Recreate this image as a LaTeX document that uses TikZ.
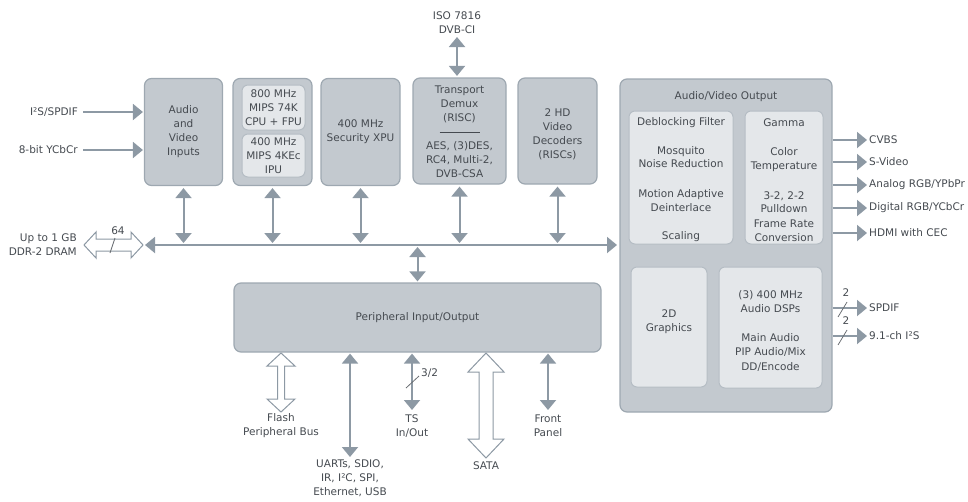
\documentclass[tikz,border=0pt]{standalone}
\usepackage{fontspec}
\setmainfont{DejaVu Sans}
\usetikzlibrary{arrows.meta,calc}
\definecolor{boxfill}{HTML}{C3C9CF}
\definecolor{boxedge}{HTML}{9EA8B1}
\definecolor{innerfill}{HTML}{E4E7EA}
\definecolor{inneredge}{HTML}{B5BDC4}
\definecolor{arrowc}{HTML}{8D99A4}
\definecolor{txt}{HTML}{454A50}
\newcommand{\hollowV}[6]{% x, y1, y2, H, S, L
  \draw[hollow] (#1,#2) -- ({#1+#4},{#2+#6}) -- ({#1+#5},{#2+#6}) -- ({#1+#5},{#3-#6}) -- ({#1+#4},{#3-#6}) -- (#1,#3)
   -- ({#1-#4},{#3-#6}) -- ({#1-#5},{#3-#6}) -- ({#1-#5},{#2+#6}) -- ({#1-#4},{#2+#6}) -- cycle;}
\newcommand{\hollowH}[6]{% y, x1, x2, H, S, L
  \draw[hollow] (#2,#1) -- ({#2+#6},{#1-#4}) -- ({#2+#6},{#1-#5}) -- ({#3-#6},{#1-#5}) -- ({#3-#6},{#1-#4}) -- (#3,#1)
   -- ({#3-#6},{#1+#4}) -- ({#3-#6},{#1+#5}) -- ({#2+#6},{#1+#5}) -- ({#2+#6},{#1+#4}) -- cycle;}
\begin{document}
\begin{tikzpicture}[x=1pt,y=-1pt,
  every node/.style={font=\fontsize{10.5}{14}\selectfont, text=txt, align=center, inner sep=0pt},
  blk/.style={draw=boxedge, fill=boxfill, line width=1.2pt, rounded corners=7pt},
  innerbox/.style={draw=inneredge, fill=innerfill, line width=1pt, rounded corners=6pt},
  biarrow/.style={draw=arrowc, line width=2pt, {Triangle[length=10pt,width=16pt]}-{Triangle[length=10pt,width=16pt]}},
  oneway/.style={draw=arrowc, line width=2pt, -{Triangle[length=10pt,width=16pt]}},
  hollow/.style={draw=arrowc, fill=white, line width=1pt, line join=miter},
  tickmark/.style={draw=txt!80, line width=0.8pt},
  lbl/.style={anchor=base}
]
\useasboundingbox (0,0) rectangle (968,501);

% ---- top row blocks
\node[blk, minimum width=78pt, minimum height=107pt] (avin) at (183.5,132) {Audio\\and\\Video\\Inputs};
\node[blk, minimum width=79pt, minimum height=107pt] (cpu) at (272.5,132) {};
\node[innerbox, minimum width=63pt, minimum height=45pt] (cpu1) at (273.5,107.5) {800 MHz\\MIPS 74K\\CPU + FPU};
\node[innerbox, minimum width=63pt, minimum height=43pt] (cpu2) at (273.5,155.5) {400 MHz\\MIPS 4KEc\\IPU};
\node[blk, minimum width=79pt, minimum height=107pt] (xpu) at (360.5,132) {400 MHz\\Security XPU};
\node[blk, minimum width=93pt, minimum height=106pt] (td) at (459.5,131) {};
\node (tdt) at (459.5,132) {Transport\\Demux\\(RISC)\\\rule[3pt]{40pt}{0.7pt}\\AES, (3)DES,\\RC4, Multi-2,\\DVB-CSA};
\node[blk, minimum width=79pt, minimum height=106pt] (vd) at (557.5,131) {};
\node (vdt) at (557.5,134) {2 HD\\Video\\Decoders\\(RISCs)};

% ---- A/V output
\node[blk, minimum width=212pt, minimum height=333pt] (avout) at (726,245.5) {};
\node[lbl] (avtitle) at (726,99) {Audio/Video Output};
\node[innerbox, minimum width=104pt, minimum height=133pt] (pp1) at (681,177.5) {};
\node[innerbox, minimum width=78pt, minimum height=133pt] (pp2) at (784,177.5) {};
\node[innerbox, minimum width=76pt, minimum height=120pt] (gfx) at (669,327) {};
\node[innerbox, minimum width=103pt, minimum height=121pt] (dsp) at (770.5,327.5) {};
\foreach \t/\y [count=\i] in {{Deblocking Filter}/125, {Mosquito}/154, {Noise Reduction}/167, {Motion Adaptive}/197, {Deinterlace}/211, {Scaling}/239}
  \node[lbl] (ppa\i) at (681,\y) {\t};
\foreach \t/\y [count=\i] in {{Gamma}/126, {Color}/155, {Temperature}/169, {3-2, 2-2}/199, {Pulldown}/212, {Frame Rate}/227, {Conversion}/241}
  \node[lbl] (ppb\i) at (784,\y) {\t};
\node[lbl] (gfx1) at (669,317) {2D};
\node[lbl] (gfx2) at (669,331) {Graphics};
\foreach \t/\y [count=\i] in {{(3) 400 MHz}/298, {Audio DSPs}/312, {Main Audio}/341, {PIP Audio/Mix}/355, {DD/Encode}/370}
  \node[lbl] (dspt\i) at (770.5,\y) {\t};

% ---- peripheral block
\node[blk, minimum width=367pt, minimum height=69pt] (peri) at (417.5,317.5) {Peripheral Input/Output};

% ---- bus
\coordinate (busL) at (145,245);
\coordinate (busR) at (617,245);
\draw[biarrow] (busL) -- (busR);
\foreach \b in {avin,cpu,xpu,td,vd}
  \draw[biarrow, shorten <=2pt, shorten >=2pt] (\b.south) -- (\b.south |- busL);
\draw[biarrow, shorten <=2pt, shorten >=1pt] (peri.north |- busL) -- (peri.north);

% ---- DDR
\node[anchor=east, align=right] (ddr) at (77,244.5) {Up to 1 GB\\DDR-2 DRAM};
\hollowH{245}{84}{143}{13}{6}{12}
\draw[tickmark] (110,253) -- (115,238);
\node (n64) at (118,231) {64};

% ---- inputs
\node[anchor=east] (i2s) at (78,112) {I²S/SPDIF};
\node[anchor=east] (ycbcr) at (78,150) {8-bit YCbCr};
\coordinate (i2sS) at (83,112);
\coordinate (ycbS) at (83,150);
\draw[oneway, shorten >=1pt] (i2sS) -- (avin.west |- i2sS);
\draw[oneway, shorten >=1pt] (ycbS) -- (avin.west |- ycbS);

% ---- ISO
\node (iso) at (457,22.5) {ISO 7816\\DVB-CI};
\coordinate (isoE) at (457,37);
\draw[biarrow, shorten >=1.5pt] (isoE) -- (td.north -| isoE);

% ---- video outputs
\foreach \t/\y/\n in {{CVBS}/140/o1, {S-Video}/162/o2, {Analog RGB/YPbPr}/185/o3, {Digital RGB/YCbCr}/208/o4, {HDMI with CEC}/233/o5}{
  \node[anchor=west] (\n) at (869,\y) {\t};
  \coordinate (\n e) at (867,\y);
  \draw[oneway] (avout.east |- \n e) -- (\n e);
}
% ---- audio outputs
\node[anchor=west] (spdif) at (869,308) {SPDIF};
\node[anchor=west] (i2so) at (869,336) {9.1-ch I²S};
\coordinate (spdifE) at (867,308);
\coordinate (i2soE) at (867,336);
\draw[oneway] (avout.east |- spdifE) -- (spdifE);
\draw[oneway] (avout.east |- i2soE) -- (i2soE);
\draw[tickmark] (838,317) -- (847,302);
\draw[tickmark] (838,345) -- (847,330);
\node (t2a) at (846,293) {2};
\node (t2b) at (846,321) {2};

% ---- bottom peripherals
\hollowV{281}{353}{412}{14}{3.5}{13}
\node (flash) at (281,426) {Flash\\Peripheral Bus};
\coordinate (uartE) at (350,457);
\draw[biarrow, shorten <=1pt] (peri.south -| uartE) -- (uartE);
\node (uart) at (350,478) {UARTs, SDIO,\\IR, I²C, SPI,\\Ethernet, USB};
\coordinate (tsE) at (412,410);
\draw[biarrow, shorten <=1pt] (peri.south -| tsE) -- (tsE);
\draw[tickmark] (406,388) -- (419,376);
\node[anchor=west] (ts32) at (421,373) {3/2};
\node (ts) at (412,426) {TS\\In/Out};
\hollowV{486}{353}{458}{18}{7}{19}
\node (sata) at (486,466) {SATA};
\coordinate (fpE) at (548,410);
\draw[biarrow, shorten <=1pt] (peri.south -| fpE) -- (fpE);
\node (fp) at (548,426) {Front\\Panel};
\end{tikzpicture}
\end{document}
